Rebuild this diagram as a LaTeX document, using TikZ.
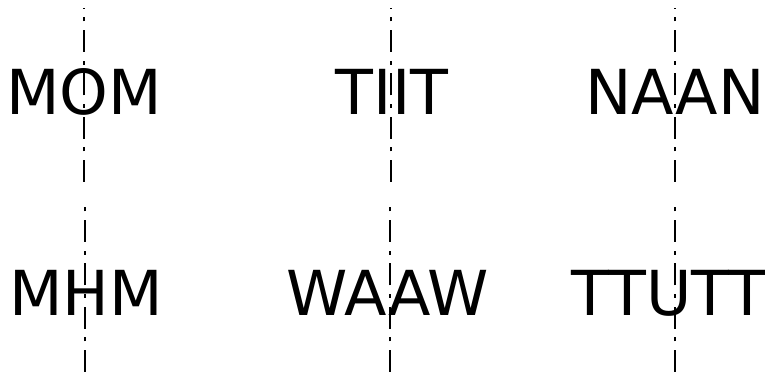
\documentclass[tikz,border=0pt]{standalone}
\usepackage{fontspec}
\setmainfont{DejaVu Sans}
\usetikzlibrary{positioning}

\begin{document}
\begin{tikzpicture}[
    x=0.75pt, y=-0.75pt,
    word/.style={font=\fontsize{46.5}{56}\selectfont, inner sep=0pt, anchor=base},
    axisline/.style={line width=1.1pt, dash pattern=on 16.5pt off 6.5pt on 3pt off 6.5pt}
]
\useasboundingbox (0,0) rectangle (765,374);

% Words
\node[word] (mom) at (84,115) {MOM};
\node[word] (tiit) at (392,115) {TIIT};
\node[word] (naan) at (675,115) {NAAN};
\node[word] (mhm) at (86,316) {MHM};
\node[word] (waaw) at (388,316) {WAAW};
\node[word] (ttutt) at (669,316) {TTUTT};

% Axis ends
\coordinate (momb) at (84,182);  \coordinate (momt) at (84,8);
\coordinate (tiitb) at (391,182); \coordinate (tiitt) at (391,8);
\coordinate (naanb) at (675,182); \coordinate (naant) at (675,8);
\coordinate (mhmb) at (85,372);  \coordinate (mhmt) at (85,200);
\coordinate (waawb) at (390,372); \coordinate (waawt) at (390,200);
\coordinate (ttuttb) at (675,372); \coordinate (ttuttt) at (675,200);

% Axes
\foreach \w in {mom, tiit, naan, mhm, waaw, ttutt}
    \draw[axisline] (\w b) -- (\w t);

\end{tikzpicture}
\end{document}
